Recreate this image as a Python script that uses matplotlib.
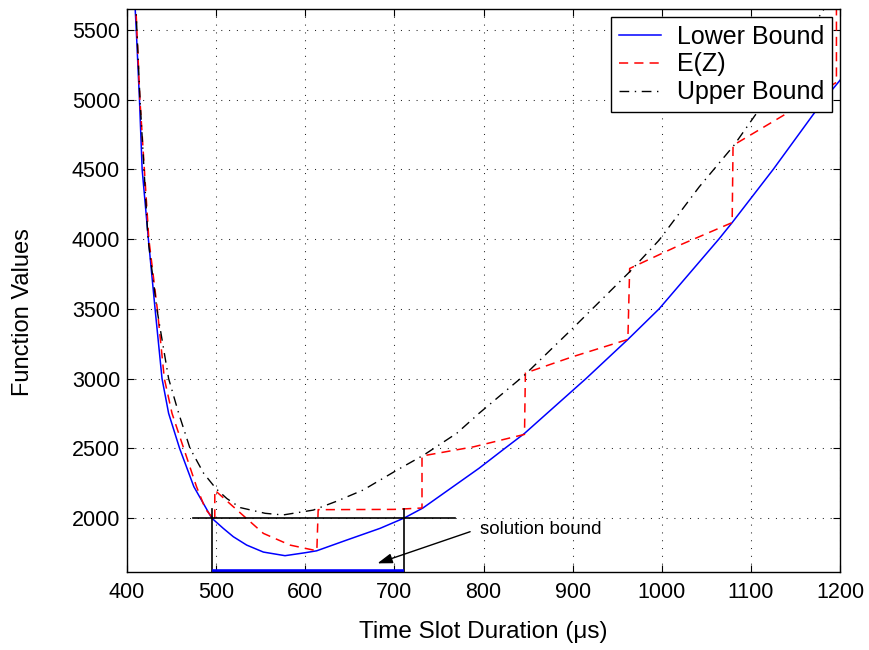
import matplotlib
matplotlib.use("Agg")
import matplotlib.pyplot as plt

plt.rcParams['font.family'] = ['Liberation Sans', 'DejaVu Sans']

# values
lower_x = [408, 410.4, 414, 417, 424, 431.5, 439.3, 446.7, 459, 475, 495, 508, 519.3, 534.3, 553, 577.3, 599.7,
           612.8, 646.5, 683.9, 711, 732, 795, 824, 846, 915, 962, 997, 1064, 1079, 1125, 1182, 1200]
lower_y = [5800, 5500, 5000, 4500, 4000, 3500, 3000, 2751, 2500, 2225, 2000, 1926, 1866, 1806, 1756, 1730, 1751,
           1765, 1842, 1926, 2000, 2072, 2357, 2500, 2607, 3000, 3281, 3500, 4000, 4119, 4500, 5000, 5140]

ez_x = [409, 414.5, 424.5, 434, 441.9, 450.5, 463.6, 478, 488, 498.5, 498.5, 519.3, 553, 583, 613,
        614.5, 700, 731, 731, 789, 846, 847, 900, 962, 964, 1020, 1079, 1080, 1146, 1196, 1196]
ez_y = [5800, 5000, 4000, 3500, 3000, 2751, 2500, 2225, 2065, 1982, 2200, 2081, 1890, 1806, 1765,
        2060, 2062, 2072, 2445, 2511, 2600, 3040, 3157, 3281, 3790, 3957, 4119, 4673, 4924, 5125, 5900]

upper_x = [409, 414.6, 423.6, 433.5, 446.7, 458, 470.7, 486, 500, 512, 527, 555, 575, 609, 635, 665,
           703, 733, 770, 795, 846, 900, 964, 997, 1042, 1081, 1106, 1150, 1200]
upper_y = [5800, 5000, 4000, 3500, 3000, 2751, 2500, 2321, 2210, 2140, 2075, 2034, 2022, 2057, 2120, 2201,
           2344, 2452, 2608, 2751, 3025, 3360, 3766, 3993, 4375, 4673, 4900, 5330, 5830]

bound_lo, bound_hi = 495, 711
bound_level = 2000
bound_line_x = [474, 768]
bound_top = 2065
bound_base = 1622

arrow_tail = (785, 1902)
arrow_head = (681, 1675)

x_ticks = [400, 500, 600, 700, 800, 900, 1000, 1100, 1200]
y_ticks = [2000, 2500, 3000, 3500, 4000, 4500, 5000, 5500]


def main():
    fig = plt.figure(figsize=(8.69, 6.5), dpi=100)
    ax = fig.add_axes([127 / 869, 78 / 650, 713 / 869, 563 / 650])

    ax.plot(lower_x, lower_y, color='blue', lw=1.1, label='Lower Bound')
    ax.plot(ez_x, ez_y, color='red', lw=1.1, linestyle=(0, (6, 4)), label='E(Z)')
    ax.plot(upper_x, upper_y, color='black', lw=1.0, linestyle=(0, (7, 4, 1, 4)), label='Upper Bound')

    # solution bound box
    ax.plot(bound_line_x, [bound_level, bound_level], color='black', lw=1.2)
    ax.plot([bound_lo, bound_lo], [1500, bound_top], color='black', lw=1.2)
    ax.plot([bound_hi, bound_hi], [1500, bound_top], color='black', lw=1.2)
    ax.plot([bound_lo, bound_hi], [bound_base, bound_base], color='blue', lw=2.6, solid_capstyle='butt',
            clip_on=False)

    ax.annotate('', xy=arrow_head, xytext=arrow_tail,
                arrowprops=dict(arrowstyle='-|>,head_length=0.9,head_width=0.3', color='black', lw=1.0,
                                shrinkA=0, shrinkB=0))
    ax.text(796, 1916, 'solution bound', fontsize=13.5, va='center', ha='left')

    ax.set_xlim(400, 1200)
    ax.set_ylim(1613, 5651)
    ax.set_xticks(x_ticks)
    ax.set_yticks(y_ticks)
    ax.tick_params(direction='in', length=5, width=0.8, top=True, right=True, labelsize=15.5)
    ax.tick_params(axis='x', pad=7)
    ax.tick_params(axis='y', pad=5)
    ax.grid(True, color='0.15', linestyle=(0, (1, 6.5)), lw=0.75)
    for s in ax.spines.values():
        s.set_linewidth(1.0)

    ax.set_xlabel('Time Slot Duration (\u03bcs)', fontsize=17.5, labelpad=13.5)
    ax.set_ylabel('Function Values', fontsize=17)
    ax.yaxis.set_label_coords(-0.130, 0.462)

    leg = ax.legend(loc='upper right', fontsize=18, frameon=True, fancybox=False, framealpha=1,
                    edgecolor='black', borderaxespad=0.32, borderpad=0.3, labelspacing=0.16,
                    handlelength=1.7, handletextpad=0.65)
    leg.get_frame().set_linewidth(1.0)

    fig.savefig('out.png', dpi=100)


if __name__ == '__main__':
    main()
